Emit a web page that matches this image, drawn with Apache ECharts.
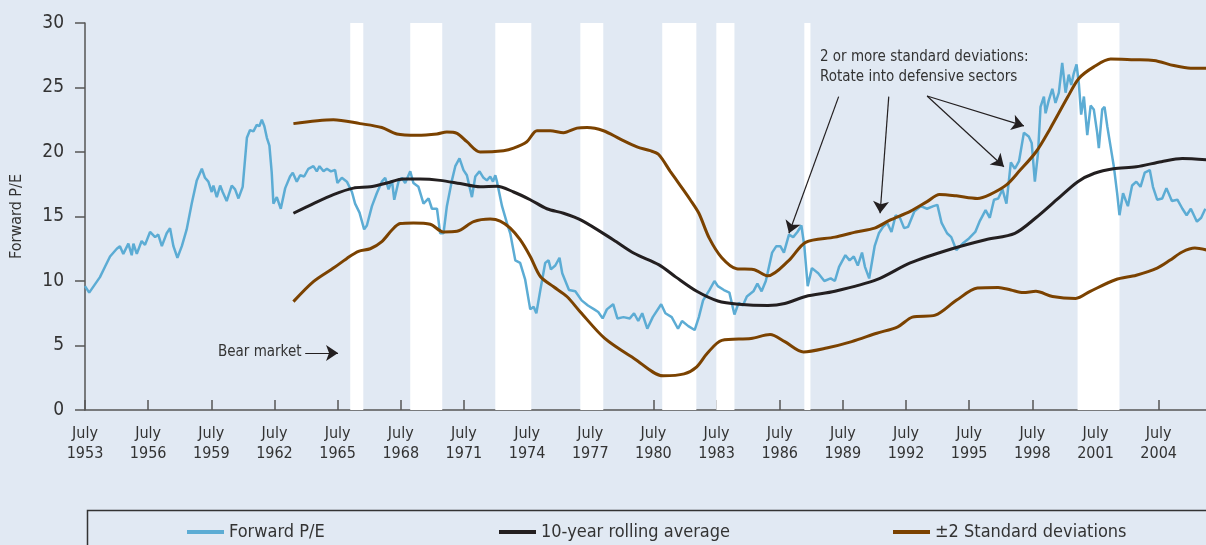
<!DOCTYPE html>
<html>
<head>
<meta charset="utf-8">
<script src="https://cdn.jsdelivr.net/npm/echarts@6/dist/echarts.min.js"></script>
<style>
  html, body { margin: 0; padding: 0; background: #e1e9f3; }
  #chart { width: 1206px; height: 545px; }
</style>
</head>
<body>
<div id="chart"></div>
<script>
// forward P/E, [year, value]
var forwardPE = [
  [1953.50, 9.6], [1953.70, 9.1], [1954.21, 10.3], [1954.45, 11.1], [1954.69, 11.9], [1955.01, 12.5],
  [1955.16, 12.7], [1955.32, 12.1], [1955.56, 12.9], [1955.72, 12.0], [1955.80, 12.9], [1955.96, 12.1],
  [1956.19, 13.1], [1956.35, 12.8], [1956.59, 13.8], [1956.83, 13.4], [1956.98, 13.6], [1957.15, 12.7],
  [1957.38, 13.7], [1957.54, 14.1], [1957.70, 12.7], [1957.89, 11.8], [1958.10, 12.7], [1958.33, 14.0],
  [1958.57, 16.0], [1958.81, 17.8], [1959.05, 18.7], [1959.20, 18.0], [1959.36, 17.7], [1959.52, 16.9],
  [1959.60, 17.4], [1959.76, 16.5], [1959.92, 17.4], [1960.04, 16.9], [1960.23, 16.2], [1960.47, 17.4],
  [1960.63, 17.1], [1960.79, 16.4], [1960.99, 17.3], [1961.19, 21.1], [1961.34, 21.7], [1961.50, 21.6],
  [1961.66, 22.1], [1961.78, 22.0], [1961.90, 22.5], [1962.02, 22.0], [1962.14, 21.1], [1962.26, 20.5],
  [1962.37, 18.4], [1962.45, 16.0], [1962.61, 16.5], [1962.80, 15.6], [1963.01, 17.2], [1963.24, 18.1],
  [1963.37, 18.4], [1963.56, 17.7], [1963.72, 18.2], [1963.91, 18.1], [1964.11, 18.7], [1964.35, 18.9],
  [1964.51, 18.5], [1964.64, 18.9], [1964.83, 18.5], [1964.99, 18.7], [1965.18, 18.5], [1965.38, 18.6],
  [1965.49, 17.6], [1965.70, 18.0], [1965.94, 17.7], [1966.18, 16.9], [1966.33, 16.0], [1966.54, 15.3],
  [1966.76, 14.0], [1966.89, 14.3], [1967.13, 15.8], [1967.36, 16.8], [1967.60, 17.7], [1967.76, 18.0],
  [1967.92, 17.1], [1968.08, 17.8], [1968.19, 16.3], [1968.39, 17.7], [1968.55, 18.0], [1968.71, 17.6],
  [1968.95, 18.5], [1969.10, 17.6], [1969.34, 17.3], [1969.58, 16.0], [1969.82, 16.4], [1969.98, 15.6],
  [1970.22, 15.6], [1970.37, 13.7], [1970.53, 13.7], [1970.69, 15.8], [1970.93, 17.8], [1971.09, 18.9],
  [1971.29, 19.5], [1971.48, 18.6], [1971.64, 18.2], [1971.88, 16.5], [1972.04, 18.1], [1972.24, 18.5],
  [1972.43, 18.0], [1972.59, 17.8], [1972.75, 18.1], [1972.88, 17.7], [1972.99, 18.2], [1973.07, 17.7],
  [1973.31, 15.8], [1973.54, 14.5], [1973.70, 13.7], [1973.94, 11.6], [1974.17, 11.4], [1974.41, 10.1],
  [1974.65, 7.8], [1974.81, 8.0], [1974.94, 7.5], [1975.13, 9.3], [1975.36, 11.4], [1975.52, 11.6],
  [1975.63, 10.9], [1975.84, 11.2], [1976.04, 11.8], [1976.17, 10.6], [1976.49, 9.3], [1976.79, 9.2],
  [1977.09, 8.5], [1977.39, 8.1], [1977.69, 7.8], [1977.88, 7.6], [1978.09, 7.1], [1978.29, 7.8],
  [1978.59, 8.2], [1978.79, 7.1], [1979.08, 7.2], [1979.38, 7.1], [1979.58, 7.5], [1979.78, 6.9],
  [1979.97, 7.5], [1980.21, 6.3], [1980.47, 7.2], [1980.87, 8.2], [1981.07, 7.5], [1981.37, 7.2],
  [1981.67, 6.3], [1981.86, 6.9], [1982.16, 6.5], [1982.46, 6.2], [1982.66, 7.2], [1982.86, 8.5],
  [1983.16, 9.3], [1983.40, 10.0], [1983.56, 9.6], [1983.85, 9.3], [1984.11, 9.1], [1984.35, 7.4],
  [1984.55, 8.3], [1984.75, 8.1], [1984.94, 8.8], [1985.25, 9.2], [1985.44, 9.8], [1985.64, 9.2],
  [1985.84, 10.0], [1986.14, 12.2], [1986.34, 12.7], [1986.53, 12.7], [1986.70, 12.2], [1986.94, 13.6],
  [1987.14, 13.4], [1987.34, 13.8], [1987.53, 14.3], [1987.67, 12.7], [1987.83, 9.6], [1988.03, 11.0],
  [1988.33, 10.6], [1988.62, 10.0], [1988.92, 10.2], [1989.12, 10.0], [1989.32, 11.1], [1989.62, 12.0],
  [1989.82, 11.6], [1990.02, 11.9], [1990.21, 11.2], [1990.41, 12.2], [1990.55, 11.1], [1990.75, 10.2],
  [1991.01, 12.7], [1991.21, 13.7], [1991.41, 14.2], [1991.61, 14.5], [1991.81, 13.8], [1992.01, 15.1],
  [1992.21, 14.9], [1992.41, 14.1], [1992.60, 14.2], [1992.90, 15.4], [1993.20, 15.8], [1993.50, 15.6],
  [1993.80, 15.8], [1993.99, 15.9], [1994.19, 14.5], [1994.45, 13.7], [1994.65, 13.4], [1994.89, 12.4],
  [1995.19, 12.9], [1995.49, 13.3], [1995.79, 13.8], [1995.99, 14.6], [1996.28, 15.5], [1996.48, 14.9],
  [1996.68, 16.3], [1996.88, 16.4], [1997.08, 17.1], [1997.27, 16.0], [1997.48, 19.2], [1997.67, 18.7],
  [1997.87, 19.3], [1998.10, 21.5], [1998.33, 21.2], [1998.47, 20.7], [1998.62, 17.7], [1998.77, 19.9],
  [1998.89, 23.5], [1999.05, 24.3], [1999.13, 23.0], [1999.28, 24.0], [1999.45, 24.9], [1999.60, 23.8],
  [1999.76, 24.6], [1999.92, 26.9], [2000.08, 24.6], [2000.23, 26.0], [2000.35, 25.2], [2000.47, 26.1],
  [2000.60, 26.8], [2000.71, 25.3], [2000.82, 22.9], [2000.95, 24.3], [2001.11, 21.3], [2001.27, 23.6],
  [2001.42, 23.3], [2001.58, 21.5], [2001.66, 20.3], [2001.82, 23.3], [2001.93, 23.5], [2002.06, 22.0],
  [2002.22, 20.4], [2002.37, 18.9], [2002.53, 16.8], [2002.64, 15.1], [2002.81, 16.8], [2003.04, 15.8],
  [2003.24, 17.4], [2003.44, 17.7], [2003.64, 17.3], [2003.84, 18.4], [2004.08, 18.6], [2004.23, 17.3],
  [2004.43, 16.3], [2004.67, 16.4], [2004.87, 17.2], [2005.13, 16.2], [2005.39, 16.3], [2005.63, 15.6],
  [2005.83, 15.1], [2006.03, 15.6], [2006.32, 14.6], [2006.52, 14.9], [2006.72, 15.6]
];

var rollingAvg = [
  [1963.40, 15.25], [1964.35, 16.0], [1965.30, 16.7], [1966.25, 17.2], [1967.05, 17.3], [1967.84, 17.6],
  [1968.63, 17.9], [1969.42, 17.9], [1970.37, 17.8], [1971.32, 17.55], [1972.27, 17.3], [1973.07, 17.35],
  [1973.86, 16.9], [1974.65, 16.3], [1975.44, 15.6], [1976.23, 15.25], [1977.09, 14.7], [1978.59, 13.2],
  [1979.58, 12.15], [1980.77, 11.25], [1981.57, 10.3], [1982.56, 9.2], [1983.56, 8.45], [1984.55, 8.2],
  [1985.94, 8.1], [1986.74, 8.25], [1987.73, 8.8], [1989.12, 9.2], [1991.11, 10.1], [1992.70, 11.4],
  [1994.69, 12.5], [1996.28, 13.2], [1997.67, 13.7], [1998.67, 14.9], [1999.66, 16.3], [2000.66, 17.7],
  [2001.45, 18.35], [2002.35, 18.7], [2003.44, 18.85], [2004.63, 19.25], [2005.62, 19.5], [2006.78, 19.4]
];

var upperBand = [
  [1963.40, 22.2], [1965.30, 22.5], [1966.57, 22.2], [1967.60, 21.9], [1968.31, 21.4], [1969.27, 21.3],
  [1970.22, 21.4], [1970.69, 21.55], [1971.17, 21.45], [1971.64, 20.8], [1972.27, 20.0], [1973.38, 20.1],
  [1973.86, 20.3], [1974.49, 20.8], [1974.97, 21.65], [1975.60, 21.65], [1976.23, 21.5], [1976.87, 21.85],
  [1977.35, 21.9], [1978.13, 21.65], [1978.93, 21.0], [1979.72, 20.4], [1980.35, 20.1], [1980.75, 19.8],
  [1981.30, 18.5], [1981.78, 17.4], [1982.25, 16.3], [1982.66, 15.25], [1983.16, 13.3], [1983.75, 11.8],
  [1984.45, 10.95], [1985.24, 10.9], [1985.94, 10.4], [1986.94, 11.6], [1987.73, 13.0], [1989.12, 13.4],
  [1990.12, 13.8], [1991.01, 14.1], [1991.71, 14.7], [1992.70, 15.4], [1993.50, 16.15], [1994.09, 16.7],
  [1994.89, 16.6], [1995.89, 16.4], [1996.48, 16.7], [1997.27, 17.45], [1997.87, 18.5], [1998.67, 20.0],
  [1999.36, 21.85], [2000.16, 24.2], [2000.71, 25.7], [2001.42, 26.6], [2002.22, 27.2], [2003.32, 27.15],
  [2004.27, 27.1], [2005.22, 26.7], [2006.02, 26.5], [2006.78, 26.5]
];

var lowerBand = [
  [1963.40, 8.4], [1964.35, 9.95], [1965.30, 11.0], [1965.94, 11.75], [1966.49, 12.3], [1967.05, 12.5],
  [1967.60, 13.05], [1968.08, 13.95], [1968.47, 14.45], [1969.10, 14.5], [1969.90, 14.4], [1970.53, 13.8],
  [1971.17, 13.85], [1971.96, 14.6], [1972.75, 14.8], [1973.22, 14.65], [1973.70, 14.1], [1974.17, 13.2],
  [1974.65, 11.9], [1975.13, 10.35], [1975.76, 9.55], [1976.39, 8.8], [1977.03, 7.6], [1978.19, 5.55],
  [1979.58, 4.0], [1980.97, 2.65], [1981.96, 2.8], [1982.56, 3.35], [1983.06, 4.4], [1983.75, 5.4],
  [1985.14, 5.55], [1986.04, 5.85], [1986.74, 5.3], [1987.63, 4.5], [1988.73, 4.8], [1989.92, 5.3],
  [1991.11, 5.95], [1992.11, 6.45], [1992.80, 7.2], [1993.89, 7.35], [1994.89, 8.5], [1995.89, 9.45],
  [1996.88, 9.5], [1997.48, 9.3], [1998.07, 9.1], [1998.67, 9.2], [1999.46, 8.8], [2000.56, 8.65],
  [2001.25, 9.2], [2002.45, 10.1], [2003.44, 10.45], [2004.43, 11.0], [2005.03, 11.6], [2005.62, 12.25],
  [2006.22, 12.55], [2006.78, 12.4]
];

// bear market periods [start, end]
var bearMarkets = [
  [1966.10, 1966.72], [1968.95, 1970.47], [1972.99, 1974.70], [1977.03, 1978.12],
  [1980.92, 1982.54], [1983.49, 1984.35], [1987.67, 1987.96], [2000.65, 2002.64]
];

// annotation arrows [fromYear, fromValue, toYear, toValue]
var calloutArrows = [
  [1989.30, 24.29, 1986.94, 13.70],
  [1991.68, 24.29, 1991.27, 15.25],
  [1993.50, 24.34, 1998.10, 22.02],
  [1993.50, 24.34, 1997.15, 18.86]
];
var bearArrow = [1963.96, 4.42, 1965.52, 4.42];

var FONT = "'Liberation Sans Narrow', 'DejaVu Sans Condensed', 'Arial Narrow', sans-serif";
var START = 1953.5;

function toMonths(yr) {
  return (yr - START) * 12;
}
function toXY(list) {
  return list.map(function (p) { return [toMonths(p[0]), p[1]]; });
}
function arrowLine(a) {
  return [{ coord: [toMonths(a[0]), a[1]] }, { coord: [toMonths(a[2]), a[3]] }];
}

var chart = echarts.init(document.getElementById("chart"));

var option = {
  backgroundColor: "#e1e9f3",
  animation: false,
  textStyle: { fontFamily: FONT },
  grid: { left: 85, right: 0, top: 23, bottom: 135 },
  legend: [
    { name: "Forward P/E", left: 182 },
    { name: "10-year rolling average", left: 494 },
    { name: "±2 Standard deviations", left: 888 }
  ].map(function (l) {
    return {
      data: [l.name],
      left: l.left,
      top: 518,
      icon: "rect",
      itemWidth: 37,
      itemHeight: 4,
      textStyle: { fontFamily: FONT, fontSize: 18, color: "#333" }
    };
  }),
  xAxis: {
    type: "value",
    min: 0,
    max: 639,
    interval: 36,
    axisLine: { lineStyle: { color: "#555", width: 1.5 } },
    axisTick: { inside: true, length: 10, lineStyle: { color: "#555", width: 1.5 } },
    splitLine: { show: false },
    axisLabel: {
      showMaxLabel: false,
      margin: 14,
      fontFamily: FONT,
      fontSize: 16,
      lineHeight: 20,
      color: "#333",
      formatter: function (v) {
        if (v % 36 !== 0) return "";
        return "July\n" + (1953 + v / 12);
      }
    }
  },
  yAxis: {
    type: "value",
    min: 0,
    max: 30,
    interval: 5,
    name: "Forward P/E",
    nameLocation: "middle",
    nameGap: 60,
    nameTextStyle: { fontFamily: FONT, fontSize: 16, color: "#333" },
    axisLine: { show: true, lineStyle: { color: "#555", width: 1.5 } },
    axisTick: { show: true, length: 10, lineStyle: { color: "#555", width: 1.5 } },
    splitLine: { show: false },
    axisLabel: { margin: 21, fontFamily: FONT, fontSize: 19, color: "#333" }
  },
  series: [
    {
      type: "line",
      data: [],
      z: 1,
      silent: true,
      markArea: {
        silent: true,
        itemStyle: { color: "#ffffff" },
        data: bearMarkets.map(function (b) {
          return [{ xAxis: toMonths(b[0]) }, { xAxis: toMonths(b[1]) }];
        })
      }
    },
    {
      name: "Forward P/E",
      type: "line",
      z: 3,
      showSymbol: false,
      data: toXY(forwardPE),
      lineStyle: { color: "#5cacd4", width: 2.5 },
      itemStyle: { color: "#5cacd4" }
    },
    {
      name: "10-year rolling average",
      type: "line",
      z: 4,
      showSymbol: false,
      smooth: 0.3,
      data: toXY(rollingAvg),
      lineStyle: { color: "#231f20", width: 3 },
      itemStyle: { color: "#231f20" }
    },
    {
      name: "±2 Standard deviations",
      type: "line",
      z: 4,
      showSymbol: false,
      smooth: 0.3,
      data: toXY(upperBand),
      lineStyle: { color: "#7b4200", width: 3 },
      itemStyle: { color: "#7b4200" }
    },
    {
      name: "±2 Standard deviations",
      type: "line",
      z: 4,
      showSymbol: false,
      smooth: 0.3,
      data: toXY(lowerBand),
      lineStyle: { color: "#7b4200", width: 3 },
      itemStyle: { color: "#7b4200" }
    },
    {
      type: "line",
      data: [],
      z: 5,
      silent: true,
      markLine: {
        silent: true,
        symbol: ["none", "arrow"],
        symbolSize: 12,
        label: { show: false },
        lineStyle: { color: "#231f20", width: 1.2, type: "solid" },
        data: calloutArrows.map(arrowLine).concat([arrowLine(bearArrow)])
      }
    }
  ],
  graphic: [
    {
      type: "rect",
      left: 85,
      top: 508,
      shape: { width: 1200, height: 100 },
      style: { fill: "none", stroke: "#333", lineWidth: 1.5 },
      z: 0
    },
    {
      type: "text",
      left: 820,
      top: 47,
      style: {
        text: "2 or more standard deviations:\nRotate into defensive sectors",
        font: "15px " + FONT,
        lineHeight: 20,
        fill: "#333"
      }
    },
    {
      type: "text",
      left: 218,
      top: 345,
      style: { text: "Bear market", font: "15px " + FONT, fill: "#333" }
    }
  ]
};

chart.setOption(option);
</script>
</body>
</html>
